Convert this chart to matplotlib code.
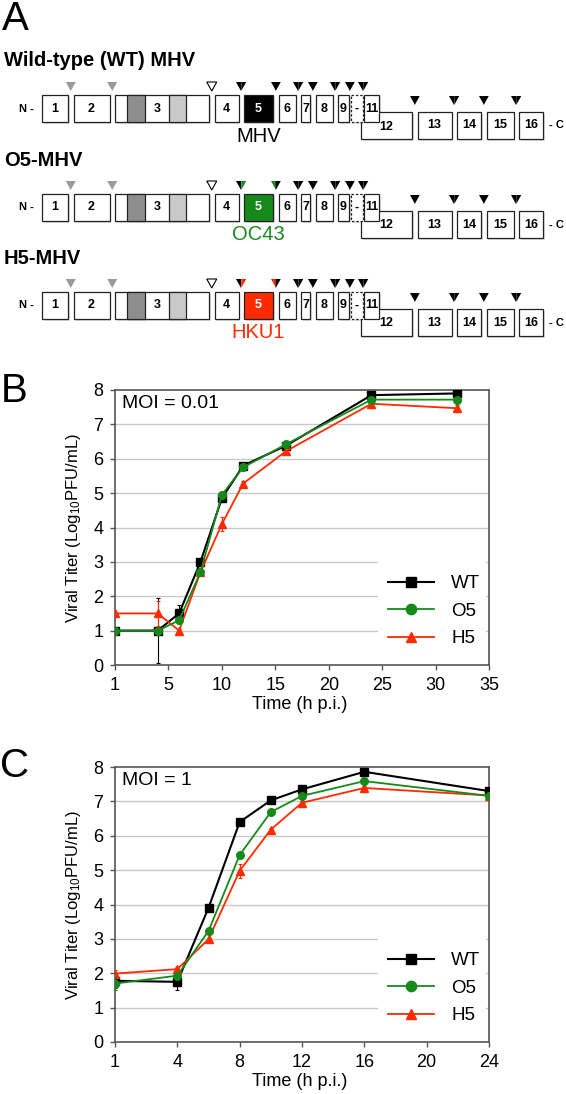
import numpy as np
import matplotlib.pyplot as plt
from matplotlib.patches import Rectangle, Polygon

plt.rcParams['font.family'] = ['Liberation Sans', 'DejaVu Sans']
plt.rcParams['mathtext.default'] = 'regular'

# ---- panel A: genome schematic (nsp1-16 of ORF1ab) ----
row_titles = ['Wild-type (WT) MHV', 'O5-MHV', 'H5-MHV']
row_labels = ['MHV', 'OC43', 'HKU1']
row_colors = ['black', '#16891a', '#ff2a00']
nsp_names = ['1', '2', '3', '4', '5', '6', '7', '8', '9', '-', '11',
             '12', '13', '14', '15', '16']
nsp_widths = [26, 36, 94, 24, 29, 17, 9, 17, 11, 12, 15, 51, 34, 24, 27, 24]
# cleavage site after nsp i (PLP1 / PLP2 / Mpro)
sites = ['plp1', 'plp1', 'plp2', 'mpro', 'mpro', 'mpro', 'mpro', 'mpro',
         'mpro', 'mpro', None, 'mpro', 'mpro', 'mpro', 'mpro']

# ---- panel B: MOI = 0.01 ----
time_b = [1, 4, 6, 8, 10, 12, 16, 24, 32]
wt_b = [1.0, 1.0, 1.5, 3.0, 4.85, 5.8, 6.38, 7.85, 7.9]
o5_b = [1.0, 1.0, 1.3, 2.7, 4.95, 5.75, 6.42, 7.72, 7.72]
h5_b = [1.5, 1.5, 1.0, 2.7, 4.1, 5.28, 6.22, 7.6, 7.47]
wt_b_err = [0.05, 0.95, 0.25, 0.08, 0.1, 0.08, 0.08, 0.1, 0.08]
o5_b_err = [0.05, 0.05, 0.1, 0.08, 0.08, 0.08, 0.08, 0.05, 0.05]
h5_b_err = [0.05, 0.37, 0.05, 0.08, 0.2, 0.08, 0.08, 0.05, 0.1]

# ---- panel C: MOI = 1 ----
time_c = [1, 4, 6, 8, 10, 12, 16, 24]
wt_c = [1.78, 1.75, 3.9, 6.4, 7.03, 7.35, 7.86, 7.3]
o5_c = [1.7, 1.93, 3.23, 5.44, 6.69, 7.16, 7.59, 7.16]
h5_c = [1.99, 2.12, 2.99, 4.98, 6.18, 6.96, 7.39, 7.17]
wt_c_err = [0.2, 0.25, 0.05, 0.1, 0.05, 0.05, 0.05, 0.05]
o5_c_err = [0.2, 0.08, 0.05, 0.08, 0.1, 0.05, 0.05, 0.05]
h5_c_err = [0.1, 0.06, 0.05, 0.2, 0.05, 0.05, 0.05, 0.05]

fig = plt.figure(figsize=(5.66, 10.94), dpi=100)

# schematic drawn in pixel-like coordinates
ax_a = fig.add_axes([0, 0, 1, 1])
ax_a.set_xlim(0, 566)
ax_a.set_ylim(1094, 0)
ax_a.axis('off')

# box positions from widths
x = 42
boxes = []
for i, w in enumerate(nsp_widths):
    if i == 11:  # nsp12 starts the lower row, tucked under nsp10/11
        x = boxes[9][1] - 1.5
    boxes.append((x, x + w))
    x += w + (1.5 if i in (8, 9) else 5.5)

row_tops = [95, 194, 292]
box_h = 27


def tri(x0, top, color, edge='none', half=None):
    pts = [(x0 - 5, top), (x0 + 5, top), (x0, top + 9)]
    if half == 'left':
        pts = [(x0 - 5, top), (x0, top), (x0, top + 9)]
    elif half == 'right':
        pts = [(x0, top), (x0 + 5, top), (x0, top + 9)]
    ax_a.add_patch(Polygon(pts, closed=True, facecolor=color, edgecolor=edge,
                           lw=0.8, zorder=4))


for r, top in enumerate(row_tops):
    col = row_colors[r]
    ax_a.text(4, top - 34, row_titles[r], fontsize=14.5, fontweight='bold',
              va='center', ha='left')
    ax_a.text(26, top + box_h / 2, 'N -', fontsize=8, fontweight='bold',
              va='center', ha='center')
    ax_a.text(556, top + 17 + box_h / 2, '- C', fontsize=8, fontweight='bold',
              va='center', ha='center')
    order = [11] + [i for i in range(16) if i != 11]
    for i in order:
        x0, x1 = boxes[i]
        y0 = top + 17 if i >= 11 else top
        face = col if i == 4 else 'white'
        ls = (0, (2, 1.5)) if i == 9 else '-'
        ax_a.add_patch(Rectangle((x0 + 1.5, y0 + 1.5), x1 - x0, box_h,
                                 facecolor='#dddddd', edgecolor='none', zorder=1))
        ax_a.add_patch(Rectangle((x0, y0), x1 - x0, box_h, facecolor=face,
                                 edgecolor='#222222', lw=0.9, ls=ls, zorder=2))
        if i == 2:
            ax_a.add_patch(Rectangle((x0 + 12, y0), 18, box_h, facecolor='#8e8e8e',
                                     edgecolor='#222222', lw=0.9, zorder=2.5))
            ax_a.add_patch(Rectangle((x0 + 54, y0), 17, box_h, facecolor='#c9c9c9',
                                     edgecolor='#222222', lw=0.9, zorder=2.5))
            ax_a.text(x0 + 42, y0 + box_h / 2, '3', fontsize=9, fontweight='bold',
                      ha='center', va='center', zorder=3)
        else:
            ax_a.text((x0 + x1) / 2 + (0.5 if i == 10 else 0),
                      y0 + box_h / 2 + (1 if i == 11 else 0),
                      nsp_names[i], fontsize=9, fontweight='bold',
                      color='white' if i == 4 else 'black',
                      ha='center', va='center', zorder=3)
    # cleavage sites
    for i, s in enumerate(sites):
        if s is None:
            continue
        xm = (boxes[i][1] + boxes[i + 1][0]) / 2
        ttop = top + 1 if i >= 11 else top - 13
        if s == 'plp1':
            tri(xm, ttop, '#9a9a9a')
        elif s == 'plp2':
            tri(xm, ttop, 'white', edge='black')
        else:
            lc = col if i == 4 else 'black'
            rc = col if i + 1 == 4 else 'black'
            tri(xm, ttop, lc, half='left')
            tri(xm, ttop, rc, half='right')
    ax_a.text(sum(boxes[4]) / 2, top + 41, row_labels[r], fontsize=14.5,
              color=col, ha='center', va='center')

ax_a.text(15, 19, 'A', fontsize=29, ha='center', va='center')
ax_a.text(14, 391, 'B', fontsize=29, ha='center', va='center')
ax_a.text(15, 766, 'C', fontsize=29, ha='center', va='center')


def scale_funcs(knots, pos):
    return (lambda t: np.interp(t, knots, pos),
            lambda p: np.interp(p, pos, knots))


def growth_panel(rect, t, series, errs, knots, pos, xticks, moi):
    ax = fig.add_axes(rect)
    ax.set_xscale('function', functions=scale_funcs(knots, pos))
    ax.set_xlim(xticks[0], xticks[-1])
    ax.set_ylim(0, 8)
    ax.set_xticks(xticks)
    ax.set_yticks(range(9))
    for yv in range(1, 8):
        ax.axhline(yv, color='#c8c8c8', lw=1.0, zorder=0.5)
    # legend area hides the lower gridlines
    ax.add_patch(Rectangle((0.703, 0.01), 0.29, 0.43, transform=ax.transAxes,
                           facecolor='white', edgecolor='none', zorder=1))
    styles = [('WT', 'black', 's', 3, 1.5), ('O5', '#16891a', 'o', 5, 1.3),
              ('H5', '#ff2a00', '^', 4, 1.3)]
    handles = []
    for (name, c, m, z, lw), y, e in zip(styles, series, errs):
        ax.errorbar(t, y, yerr=e, fmt='none', ecolor=c, elinewidth=0.8,
                    capsize=1.5, capthick=0.8, zorder=z)
        h, = ax.plot(t, y, color=c, marker=m, ms=5.5, lw=lw, label=name, zorder=z)
        handles.append(h)
    ax.legend(handles=handles, loc='center', bbox_to_anchor=(0.853, 0.196),
              frameon=False, fontsize=13.5, handlelength=2.5, handletextpad=0.9,
              labelspacing=0.55, borderpad=0, markerscale=1.35)
    for sp in ax.spines.values():
        sp.set_color('#555555')
        sp.set_linewidth(1.2)
    ax.tick_params(direction='out', length=3.5, width=1, color='#555555',
                   labelsize=13, pad=5)
    ax.set_ylabel('Viral Titer (Log$_{10}$PFU/mL)', fontsize=12)
    ax.yaxis.set_label_coords(-0.086, 0.5)
    ax.set_xlabel('Time (h p.i.)', fontsize=13)
    ax.xaxis.set_label_coords(0.495, -0.112)
    ax.text(0.019, 0.95, moi, transform=ax.transAxes, fontsize=14,
            ha='left', va='center')
    return ax


growth_panel([115 / 566, 1 - 665 / 1094, 374 / 566, 275 / 1094], time_b,
             [wt_b, o5_b, h5_b], [wt_b_err, o5_b_err, h5_b_err],
             [1, 4, 35], [0, 4, 35], [1, 5, 10, 15, 20, 25, 30, 35], 'MOI = 0.01')
growth_panel([115 / 566, 1 - 1042 / 1094, 374 / 566, 275 / 1094], time_c,
             [wt_c, o5_c, h5_c], [wt_c_err, o5_c_err, h5_c_err],
             [1, 4, 24], [0, 1, 6], [1, 4, 8, 12, 16, 20, 24], 'MOI = 1')

fig.savefig('out.png', dpi=100)
